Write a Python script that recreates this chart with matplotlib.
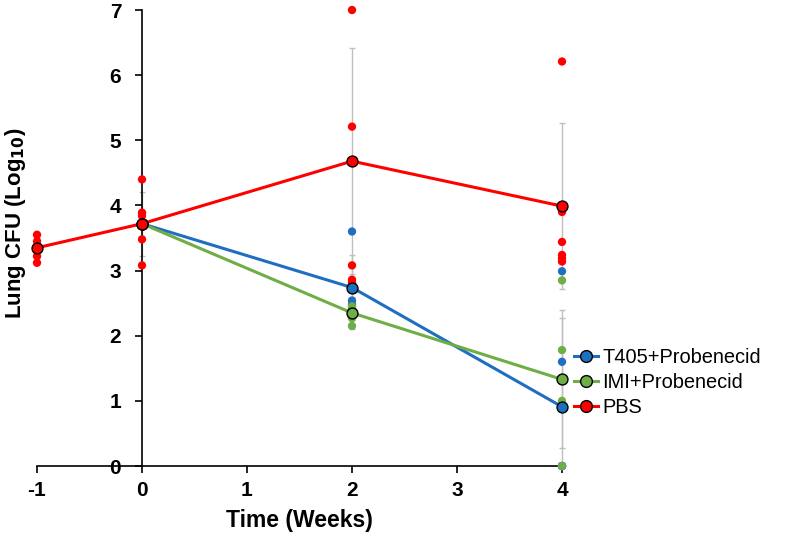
import matplotlib
matplotlib.use("Agg")
import matplotlib.pyplot as plt
from matplotlib.lines import Line2D

plt.rcParams['font.family'] = ['Liberation Sans', 'DejaVu Sans']

# ---- data ----
weeks = [-1, 0, 2, 4]
groups = ["T405+Probenecid", "IMI+Probenecid", "PBS"]
colors = ["#1F6FC1", "#6FAD46", "#FF0000"]

# group means (None = no value at that time point)
t405_mean = [None, 3.72, 2.74, 0.91]
imi_mean = [None, 3.72, 2.35, 1.33]
pbs_mean = [3.35, 3.72, 4.68, 3.99]

t405_sd = [None, 0.0, 0.50, 1.36]
imi_sd = [None, 0.0, 0.25, 1.06]
pbs_sd = [0.15, 0.49, 1.73, 1.27]

# individual animals
t405_pts = {2: [3.60, 2.54, 2.48, 2.42, 2.36], 4: [2.99, 1.60, 0.0, 0.0, 0.0]}
imi_pts = {2: [2.80, 2.45, 2.27, 2.15], 4: [2.85, 1.78, 1.00, 0.0]}
pbs_pts = {-1: [3.55, 3.45, 3.22, 3.12],
           0: [4.40, 3.89, 3.84, 3.48, 3.08],
           2: [7.00, 5.21, 3.08, 2.86, 2.82],
           4: [6.21, 3.90, 3.44, 3.24, 3.19, 3.14]}

means = [t405_mean, imi_mean, pbs_mean]
sds = [t405_sd, imi_sd, pbs_sd]
pts = [t405_pts, imi_pts, pbs_pts]

fig = plt.figure(figsize=(8.0, 5.39), dpi=100)
ax = fig.add_axes([0.04625, 0.1354, 0.65625, 0.846])

# error bars (lower whisker clipped at 0)
for m, s in zip(means, sds):
    for x, mv, sv in zip(weeks, m, s):
        if mv is None or not sv:
            continue
        lo = min(sv, mv)
        cont = ax.errorbar([x], [mv], yerr=[[lo], [sv]], fmt='none', ecolor='#BFBFBF',
                           elinewidth=1.0, capsize=2.5, capthick=1.0, zorder=1)
        for art in list(cont.lines[1]) + list(cont.lines[2]):
            art.set_clip_on(False)

# lines
for m, c in zip(means, colors):
    xs = [x for x, v in zip(weeks, m) if v is not None]
    ys = [v for v in m if v is not None]
    ax.plot(xs, ys, color=c, lw=2.2, zorder=2, solid_capstyle='round')

# individual points
for p, c in zip(pts, colors):
    for x, vals in p.items():
        ax.scatter([x] * len(vals), vals, s=36, color=c, edgecolors='none',
                   zorder=3, clip_on=False)

# mean markers
for m, c in zip(means, colors):
    xs = [x for x, v in zip(weeks, m) if v is not None]
    ys = [v for v in m if v is not None]
    ax.scatter(xs, ys, s=62, color=c, edgecolors='black', linewidths=1.0,
               zorder=4, clip_on=False)

ax.set_xlim(-1, 4)
ax.set_ylim(0, 7)
ax.spines['top'].set_visible(False)
ax.spines['right'].set_visible(False)
ax.spines['left'].set_position(('data', 0))
ax.spines['left'].set_linewidth(1.2)
ax.spines['bottom'].set_linewidth(1.2)
ax.set_xticks([-1, 0, 1, 2, 3, 4])
ax.set_xticklabels(['-1', '0', '1', '2', '3', '4'])
ax.set_yticks(range(0, 8))
ax.tick_params(axis='both', direction='out', length=5, width=1.2,
               labelsize=15)
ax.tick_params(axis='y', pad=10)
ax.tick_params(axis='x', pad=6)
for lab in ax.get_xticklabels() + ax.get_yticklabels():
    lab.set_fontweight('bold')

ax.set_xlabel('Time (Weeks)', fontsize=16.5, fontweight='bold', labelpad=6)
fig.text(0.02, 0.585, 'Lung CFU (Log$_{\\mathbf{10}}$)', rotation=90, fontsize=16,
         fontweight='bold', ha='center', va='center')

handles = [Line2D([0], [0], color=c, lw=2.2, marker='o', markersize=8.5,
                  markerfacecolor=c, markeredgecolor='black', markeredgewidth=1.0)
           for c in colors]
fig.legend(handles, groups, loc='center left', bbox_to_anchor=(0.708, 0.29),
           frameon=False, fontsize=14.4, handlelength=1.2, handletextpad=0.2,
           labelspacing=0.3, borderaxespad=0, numpoints=1)

fig.savefig('out.png', dpi=100)
